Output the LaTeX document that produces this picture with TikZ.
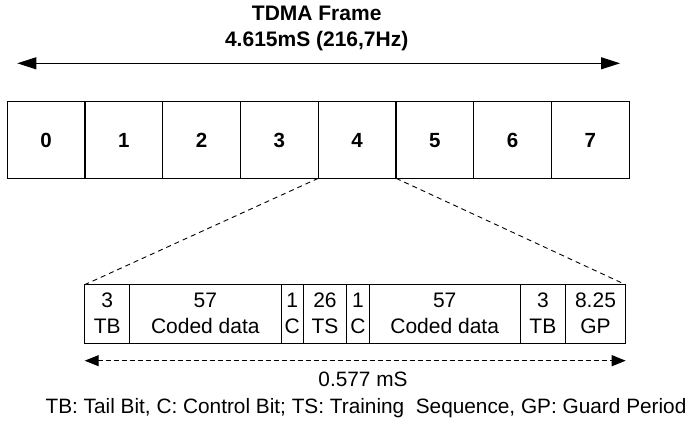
\documentclass[tikz,border=0pt]{standalone}
\usepackage{fontspec}
\setmainfont{Liberation Sans}
\usetikzlibrary{arrows.meta}
\begin{document}
\begin{tikzpicture}[x=1pt,y=-1pt,
  txt/.style={inner sep=0pt,outer sep=0pt,anchor=base,font=\fontsize{21}{25}\selectfont},
  small/.style={txt,font=\fontsize{20.8}{25}\selectfont},
  bold/.style={txt,font=\fontsize{21}{25}\selectfont\bfseries},
  slot/.style={draw,line width=1.3pt,minimum width=77.75pt,minimum height=76.6pt,
    inner sep=0pt,outer sep=0pt,text height=15pt,text depth=0pt,
    font=\fontsize{20.5}{25}\selectfont\bfseries},
  cell/.style={draw,line width=1pt,minimum height=58.6pt,inner sep=0pt,outer sep=0pt,anchor=north west},
  span/.style={line width=1pt,{Triangle[length=19pt,width=12pt]}-{Triangle[length=19pt,width=12pt]}},
  burstspan/.style={line width=1pt,dash pattern=on 4.7pt off 3.3pt,
    {Triangle[length=14pt,width=11pt]}-{Triangle[length=14pt,width=11pt]}},
  zoomline/.style={line width=0.9pt,dash pattern=on 5pt off 4pt}]
\useasboundingbox (0,0) rectangle (694,422);

% frame title and length
\node[bold] (title) at (316.7,20.7) {TDMA Frame};
\node[bold] (period) at (316.7,46.7) {4.615mS (216,7Hz)};
\coordinate (fl) at (17.3,63.3);
\coordinate (fr) at (620,63.3);
\draw[span] (fl) -- (fr);

% the eight time slots
\foreach \i in {0,...,7}
  \node[slot] (s\i) at ({7.3+77.75*(\i+0.5)},140) {\i};

% one normal burst
\foreach \n/\l/\r in {1/84.7/129.7,2/129.7/281,3/281/303.3,4/303.3/346.7,
                      5/346.7/369,6/369/520.4,7/520.4/565.3,8/565.3/625.7}
  \node[cell,minimum width={\r-\l}] (b\n) at (\l,284.7) {};

\foreach \n/\x/\a/\b in {1/107.2/3/TB,2/205.35/57/Coded data,3/292.15/1/C,4/325/26/TS,
                         5/357.85/1/C,6/444.7/57/Coded data,7/542.85/3/TB,8/595.5/8.25/GP}{
  \node[txt] (t\n) at (\x,307.3) {\a};
  \node[txt] (u\n) at (\x,334) {\b};
}

% slot 4 expanded into the burst
\draw[zoomline] (s4.south west) -- (b1.north west);
\draw[zoomline] (s4.south east) -- (b8.north east);

% burst length
\coordinate (bl) at (84.7,360.7);
\coordinate (br) at (625.7,360.7);
\draw[burstspan] (bl) -- (br);
\node[small] (dur) at (363,386) {0.577 mS};

% legend
\node[small] (legend) at (366,413) {TB: Tail Bit, C: Control Bit; TS: Training\ \ Sequence, GP: Guard Period};
\end{tikzpicture}
\end{document}
